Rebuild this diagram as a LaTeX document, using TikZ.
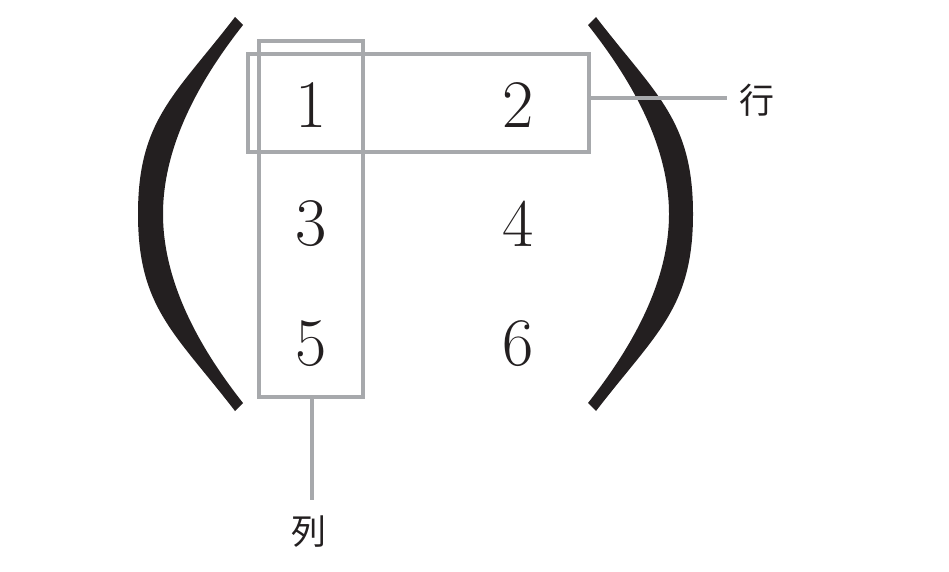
\documentclass[tikz,border=0pt]{standalone}
\usepackage{fontspec}
\newfontfamily\cjkfont{Noto Sans CJK JP}
\definecolor{boxgray}{RGB}{167,169,172}
\definecolor{parenblack}{RGB}{35,31,32}

\begin{document}
\begin{tikzpicture}[x=1pt,y=-1pt,
  entry/.style={font=\fontsize{68}{68}\selectfont,text=parenblack},
  frame/.style={draw=boxgray,line width=4pt,inner sep=0pt},
  link/.style={draw=boxgray,line width=4pt},
  tag/.style={font=\cjkfont\fontsize{35}{35}\selectfont,text=parenblack}]
  \useasboundingbox (0,0) rectangle (949,571);
  % big parentheses
  \fill[parenblack] (235,17) .. controls (175,95) and (138,120) .. (138,214)
    .. controls (138,308) and (175,333) .. (235,411) -- (243,403)
    .. controls (206,356) and (163,288) .. (163,214)
    .. controls (163,140) and (206,72) .. (243,25) -- cycle;
  \fill[parenblack] (596,17) .. controls (656,95) and (693,120) .. (693,214)
    .. controls (693,308) and (656,333) .. (596,411) -- (588,403)
    .. controls (625,356) and (669,288) .. (669,214)
    .. controls (669,140) and (625,72) .. (588,25) -- cycle;
  % entries
  \foreach \x/\y/\num in {311/105/1,518.5/105/2,311/224/3,518.5/224/4,311/344/5,518.5/344/6}
    \node[entry] (e\num) at (\x,\y) {\num};
  % row and column
  \node[frame,minimum width=341.3pt,minimum height=98.3pt] (rowbox) at (418.35,103.15) {};
  \node[frame,minimum width=103.4pt,minimum height=356.6pt] (colbox) at (311,219) {};
  \node[tag] (rowlabel) at (757,100) {行};
  \node[tag] (collabel) at (309,532) {列};
  \coordinate (rowend) at (727,98);
  \coordinate (colend) at (312,500);
  \draw[link] (rowbox.east |- rowend) -- (rowend);
  \draw[link] (colbox.south -| colend) -- (colend);
\end{tikzpicture}
\end{document}
